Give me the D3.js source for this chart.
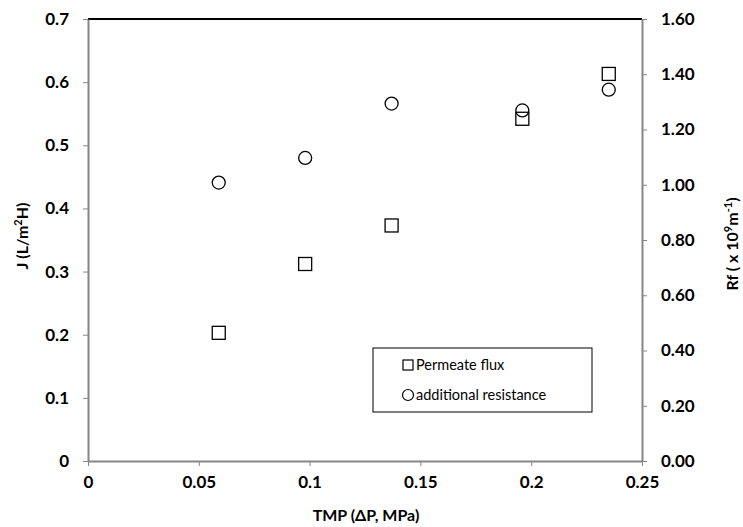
<!DOCTYPE html>
<html>
<head>
<meta charset="utf-8">
<script src="https://cdn.jsdelivr.net/npm/d3@7"></script>
<style>
  body { margin: 0; background: #fff; }
  text { font-family: Lato, "Open Sans", sans-serif; }
</style>
</head>
<body>
<svg id="chart" width="743" height="527"></svg>
<script>
// TMP values (MPa)
var tmp = [0.059, 0.098, 0.137, 0.196, 0.235];
// permeate flux J (L/m2H)
var flux = [0.203, 0.312, 0.373, 0.542, 0.613];
// additional resistance Rf (x 10^9 m^-1)
var rf = [1.008, 1.097, 1.294, 1.269, 1.344];

var xTicks = [0, 0.05, 0.1, 0.15, 0.2, 0.25];
var yTicks = [0, 0.1, 0.2, 0.3, 0.4, 0.5, 0.6, 0.7];
var y2Ticks = [0, 0.2, 0.4, 0.6, 0.8, 1.0, 1.2, 1.4, 1.6];

var svg = d3.select("#chart");
var plotL = 88, plotR = 642, plotT = 19, plotB = 461;

var x = d3.scaleLinear().domain([0, 0.25]).range([plotL, plotR]);
var y = d3.scaleLinear().domain([0, 0.7]).range([plotB, plotT]);
var y2 = d3.scaleLinear().domain([0, 1.6]).range([plotB, plotT]);

// top border
svg.append("line").attr("x1", plotL).attr("x2", plotR).attr("y1", plotT).attr("y2", plotT)
  .attr("stroke", "#000").attr("stroke-width", 2);

var axisColor = "#868686";
function styleAxis(g) {
  g.select(".domain").attr("stroke", axisColor).attr("stroke-width", 2);
  g.selectAll(".tick line").attr("stroke", axisColor);
  g.selectAll(".tick text").attr("fill", "#000").attr("font-size", "17px")
    .attr("font-weight", "bold").style("font-family", "Lato, 'Open Sans', sans-serif");
}

var gx = svg.append("g").attr("transform", "translate(0," + plotB + ")")
  .call(d3.axisBottom(x).tickValues(xTicks).tickSize(5).tickSizeOuter(0).tickPadding(10)
    .tickFormat(function(d) { return String(d); }));
styleAxis(gx);

var gy = svg.append("g").attr("transform", "translate(" + plotL + ",0)")
  .call(d3.axisLeft(y).tickValues(yTicks).tickSize(5).tickSizeOuter(0).tickPadding(14)
    .tickFormat(function(d) { return String(d); }));
styleAxis(gy);

var gy2 = svg.append("g").attr("transform", "translate(" + plotR + ",0)")
  .call(d3.axisRight(y2).tickValues(y2Ticks).tickSize(5).tickSizeOuter(0).tickPadding(14)
    .tickFormat(d3.format(".2f")));
styleAxis(gy2);

// axis titles
svg.append("text").attr("x", 366).attr("y", 521).attr("text-anchor", "middle")
  .attr("font-size", "16px").attr("font-weight", "bold").text("TMP (ΔP, MPa)");

var yt = svg.append("text").attr("transform", "translate(28,236) rotate(-90)")
  .attr("text-anchor", "middle").attr("font-size", "16px").attr("font-weight", "bold");
yt.append("tspan").text("J (L/m");
yt.append("tspan").attr("dy", -6).attr("font-size", "11px").text("2");
yt.append("tspan").attr("dy", 6).text("H)");

var y2t = svg.append("text").attr("transform", "translate(738,244) rotate(-90)")
  .attr("text-anchor", "middle").attr("font-size", "16px").attr("font-weight", "bold");
y2t.append("tspan").text("Rf ( x 10");
y2t.append("tspan").attr("dy", -6).attr("font-size", "11px").text("9");
y2t.append("tspan").attr("dy", 6).text("m");
y2t.append("tspan").attr("dy", -6).attr("font-size", "11px").text("-1");
y2t.append("tspan").attr("dy", 6).text(")");

// markers
var s = 13;
svg.append("g").selectAll("rect").data(tmp).enter().append("rect")
  .attr("x", function(d) { return x(d) - s / 2; })
  .attr("y", function(d, i) { return y(flux[i]) - s / 2; })
  .attr("width", s).attr("height", s)
  .attr("fill", "none").attr("stroke", "#000").attr("stroke-width", 1.3);

svg.append("g").selectAll("circle").data(tmp).enter().append("circle")
  .attr("cx", function(d) { return x(d); })
  .attr("cy", function(d, i) { return y2(rf[i]); })
  .attr("r", 6.5)
  .attr("fill", "none").attr("stroke", "#000").attr("stroke-width", 1.3);

// legend
var lg = svg.append("g");
lg.append("rect").attr("x", 373).attr("y", 348).attr("width", 219).attr("height", 64)
  .attr("fill", "#fff").attr("stroke", "#000").attr("stroke-width", 1);
lg.append("rect").attr("x", 403).attr("y", 360).attr("width", 10).attr("height", 10)
  .attr("fill", "none").attr("stroke", "#000").attr("stroke-width", 1.2);
lg.append("text").attr("x", 416).attr("y", 370).attr("font-size", "14.5px").text("Permeate flux");
lg.append("circle").attr("cx", 408).attr("cy", 395).attr("r", 5.5)
  .attr("fill", "none").attr("stroke", "#000").attr("stroke-width", 1.2);
lg.append("text").attr("x", 416).attr("y", 400).attr("font-size", "14.5px").text("additional resistance");
</script>
</body>
</html>
